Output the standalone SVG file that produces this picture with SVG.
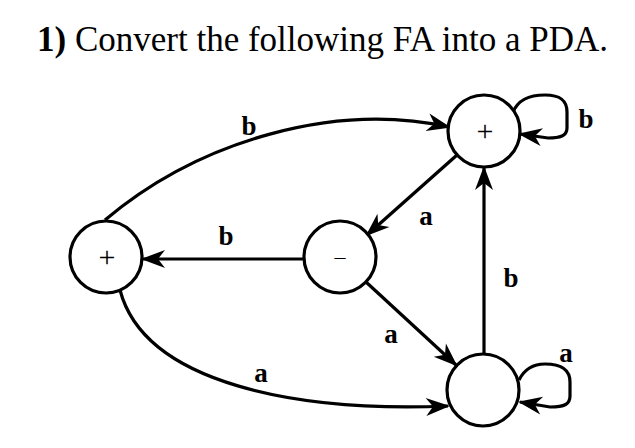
<svg xmlns="http://www.w3.org/2000/svg" width="635" height="448" viewBox="0 0 635 448">
<defs>
<marker id="arr" markerUnits="userSpaceOnUse" markerWidth="30" markerHeight="24" viewBox="-24 -12 30 24" refX="0" refY="0" orient="auto">
<path d="M2,0 L-22,-9 L-15,0 L-22,9 Z" fill="#000"/>
</marker>
</defs>
<style>
.st{fill:#fff;stroke:#000;stroke-width:3.2}
.sym{font-family:"Liberation Serif","Times New Roman",serif;font-size:30px;text-anchor:middle;fill:#000}
.dash{font-family:"Liberation Serif","Times New Roman",serif;font-size:22px;text-anchor:middle;fill:#000}
.lbl{font-family:"Liberation Serif","Times New Roman",serif;font-size:27px;font-weight:bold;text-anchor:middle;fill:#000}
.ed{fill:none;stroke:#000;stroke-width:3.2;marker-end:url(#arr)}
.title{font-family:"Liberation Serif","Times New Roman",serif;font-size:35px;fill:#000}
</style>
<rect width="635" height="448" fill="#fff"/>
<text class="title" x="37" y="51"><tspan font-weight="bold">1)</tspan> Convert the following FA into a PDA.</text>
<g id="connectors">
<path class="ed" d="M105,220 C200,140 335,102 449,127"/>
<path class="ed" d="M304,259 L143,259"/>
<path class="ed" d="M457,155 L367,235"/>
<path class="ed" d="M366,282 L456,365"/>
<path class="ed" d="M484,354 L484,168"/>
<path class="ed" d="M120,290 C145,385 300,412 448,406"/>
<path class="ed" d="M513,112 C518,100 528,95 545,95 C560,95 567,100 567,112 L567,128 C567,136 560,138 548,138 L520,134"/>
<path class="ed" d="M519,380 C524,370 532,364 545,364 C562,364 570,370 570,382 L570,396 C570,404 565,407 550,407 L520,402"/>
<text class="lbl" x="249" y="135">b</text>
<text class="lbl" x="226" y="245">b</text>
<text class="lbl" x="426" y="225">a</text>
<text class="lbl" x="391" y="343">a</text>
<text class="lbl" x="511" y="287">b</text>
<text class="lbl" x="261" y="382">a</text>
<text class="lbl" x="586" y="128">b</text>
<text class="lbl" x="566" y="362">a</text>
</g>
<g id="q_left">
<circle class="st" cx="106" cy="257" r="36"/>
<text class="sym" x="107" y="267">+</text>
</g>
<g id="q_mid">
<circle class="st" cx="340" cy="257" r="36"/>
<text class="dash" x="340" y="264">–</text>
</g>
<g id="q_top">
<circle class="st" cx="484" cy="131" r="36"/>
<text class="sym" x="485" y="141">+</text>
</g>
<g id="q_bot">
<circle class="st" cx="483" cy="390" r="36"/>
</g>
</svg>
